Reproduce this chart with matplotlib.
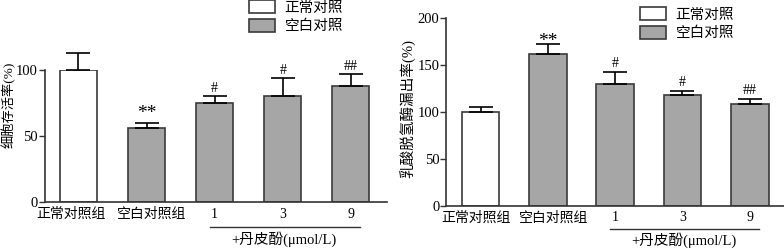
import matplotlib.pyplot as plt
import matplotlib.transforms as mtransforms
from matplotlib.patches import Patch
import numpy as np

plt.rcParams['font.family'] = ['Liberation Serif', 'Noto Sans CJK SC']
plt.rcParams['font.size'] = 10

groups = ['正常对照组', '空白对照组', '1', '3', '9']
legend_labels = ['正常对照', '空白对照']
dose_label = '+丹皮酚(μmol/L)'

# cell viability (%)
viab_mean = [100, 55.8, 75.2, 80, 87.9]
viab_err = [12.6, 4, 5, 14, 9]
viab_marks = ['', '**', '#', '#', '##']

# LDH leakage (%)
ldh_mean = [100, 161, 129.5, 117.8, 108.2]
ldh_err = [4.5, 10.5, 13, 4.5, 5.5]
ldh_marks = ['', '**', '#', '#', '##']

white = '#ffffff'
gray = '#a6a6a6'
edge = '#3a3a3a'
colors = [white, gray, gray, gray, gray]

fig = plt.figure(figsize=(7.84, 2.49), dpi=100)
W, H = 784, 249


def panel(rect, means, errs, marks, ylim, yticks, ylabel, xlim, width, label_xy,
          bracket_y, text_y, label_shift, star_off, ylabel_fs):
    ax = fig.add_axes(rect)
    x = np.arange(len(means))
    ax.bar(x, means, width=width, color=colors, edgecolor=edge, linewidth=1.2, zorder=2)
    ax.errorbar(x, means, yerr=[np.zeros(len(errs)), errs], fmt='none', ecolor='black',
                elinewidth=1.2, capsize=8.5, capthick=1.2, clip_on=False, zorder=3)
    for xi, m, e, s in zip(x, means, errs, marks):
        if not s:
            continue
        if s == '**':
            ax.annotate(s, (xi, m + e), xytext=(0, star_off), textcoords='offset points',
                        ha='center', va='baseline', fontsize=14, annotation_clip=False)
        else:
            ax.annotate(s, (xi, m + e), xytext=(0, 1.0), textcoords='offset points',
                        ha='center', va='bottom', fontsize=10, annotation_clip=False)
    ax.set_xlim(*xlim)
    ax.set_ylim(*ylim)
    ax.set_yticks(yticks)
    ax.set_xticks(x)
    ax.set_xticklabels(groups, fontsize=10)
    ax.tick_params(axis='x', length=0, pad=4)
    ax.tick_params(axis='y', length=4, width=1, pad=1, labelsize=10.5, color='#333333')
    # nudge the two group names apart, as in the original
    for lab, dx in zip(ax.get_xticklabels()[:2], label_shift):
        lab.set_transform(lab.get_transform() +
                          mtransforms.ScaledTranslation(dx / 100, 0, fig.dpi_scale_trans))
    for s in ['top', 'right']:
        ax.spines[s].set_visible(False)
    for s in ['left', 'bottom']:
        ax.spines[s].set_linewidth(1.2)
        ax.spines[s].set_color('#333333')
    ax.set_ylabel(ylabel, fontsize=ylabel_fs)
    ax.yaxis.set_label_coords(*label_xy)
    trans = ax.get_xaxis_transform()
    ax.plot([1.93, 4.14], [bracket_y, bracket_y], color='#333333', lw=1.0,
            transform=trans, clip_on=False)
    ax.text(3.02, text_y, dose_label, transform=trans, ha='center', va='center', fontsize=10.5)
    return ax


ax1 = panel([45 / W, 1 - 202 / H, 342 / W, 132 / H], viab_mean, viab_err, viab_marks,
            (0, 100), [0, 50, 100], '细胞存活率(%)', (-0.49, 4.53), 0.54,
            (-0.085, 0.74), -0.19, -0.28, (-7, 5), 3.5, 9.5)
ax2 = panel([446.3 / W, 1 - 205.7 / H, 337.7 / W, 188 / H], ldh_mean, ldh_err, ldh_marks,
            (0, 200), [0, 50, 100, 150, 200], '乳酸脱氢酶漏出率(%)', (-0.51, 4.51), 0.56,
            (-0.088, 0.515), -0.124, -0.185, (-5, 6), -1.0, 10.5)

handles = [Patch(facecolor=white, edgecolor=edge, linewidth=1.2),
           Patch(facecolor=gray, edgecolor=edge, linewidth=1.2)]
for anchor in [(249 / W, 1.0), (640 / W, 1 - 7 / H)]:
    fig.legend(handles, legend_labels, loc='upper left', bbox_to_anchor=anchor,
               frameon=False, borderpad=0, borderaxespad=0, handlelength=1.75,
               handleheight=1.0, handletextpad=0.7, labelspacing=0.3, fontsize=10.5)

fig.savefig('out.png', dpi=100)
